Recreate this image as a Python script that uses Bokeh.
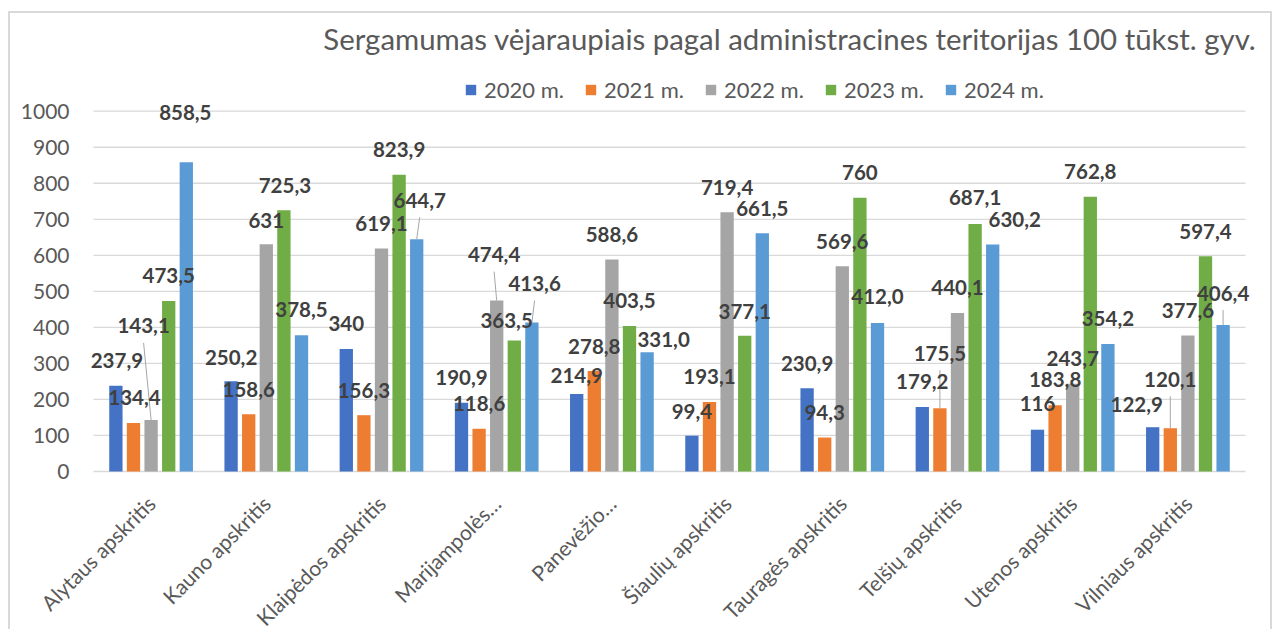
import math
from bokeh.plotting import figure
from bokeh.models import ColumnDataSource, Range1d, FixedTicker, Legend, LegendItem
from bokeh.core.properties import value
from bokeh.embed import file_html
from bokeh.resources import INLINE

# ---------------- data ----------------
categories = ["Alytaus apskritis", "Kauno apskritis", "Klaipėdos apskritis", "Marijampolės…",
              "Panevėžio…", "Šiaulių apskritis", "Tauragės apskritis", "Telšių apskritis",
              "Utenos apskritis", "Vilniaus apskritis"]
series_names = ["2020 m.", "2021 m.", "2022 m.", "2023 m.", "2024 m."]
v2020 = [237.9, 250.2, 340, 190.9, 214.9, 99.4, 230.9, 179.2, 116, 122.9]
v2021 = [134.4, 158.6, 156.3, 118.6, 278.8, 193.1, 94.3, 175.5, 183.8, 120.1]
v2022 = [143.1, 631, 619.1, 474.4, 588.6, 719.4, 569.6, 440.1, 243.7, 377.6]
v2023 = [473.5, 725.3, 823.9, 363.5, 403.5, 377.1, 760, 687.1, 762.8, 597.4]
v2024 = [858.5, 378.5, 644.7, 413.6, 331.0, 661.5, 412.0, 630.2, 354.2, 406.4]
t2020 = ["237,9", "250,2", "340", "190,9", "214,9", "99,4", "230,9", "179,2", "116", "122,9"]
t2021 = ["134,4", "158,6", "156,3", "118,6", "278,8", "193,1", "94,3", "175,5", "183,8", "120,1"]
t2022 = ["143,1", "631", "619,1", "474,4", "588,6", "719,4", "569,6", "440,1", "243,7", "377,6"]
t2023 = ["473,5", "725,3", "823,9", "363,5", "403,5", "377,1", "760", "687,1", "762,8", "597,4"]
t2024 = ["858,5", "378,5", "644,7", "413,6", "331,0", "661,5", "412,0", "630,2", "354,2", "406,4"]
y_ticks = [0, 100, 200, 300, 400, 500, 600, 700, 800, 900, 1000]
title_text = "Sergamumas vėjaraupiais pagal administracines teritorijas 100 tūkst. gyv."

values = [v2020, v2021, v2022, v2023, v2024]
texts = [t2020, t2021, t2022, t2023, t2024]

# ---------------- styling / layout ----------------
colors = ["#4472C4", "#ED7D31", "#A5A5A5", "#70AD47", "#5B9BD5"]
# label placement offsets (pixels) as moved by hand in the original
lab_dx = [[1, 0, 0, 0, 0, 0, 0, 0, 0, -16],
          [1, 0, 0, 0, 0, 0, 0, 0, 0, 0],
          [-7.5, 0, 0, -2.6, 0, 0, 0, 0, 0, 0],
          [0, 1, 0, -7.7, 0, 0, 0, 0, 0, 0],
          [-1, 0, 3, 2.7, 16.5, 0, 0, 22, 0, 0]]
lab_dy = [[-25, -24, -25, -25, -19, -24, -25, -25, -26, -23],
          [-26, -25, -25, -25, -25, -25, -25, -55, -26, -49],
          [-94, -24, -25, -46, -25, -25, -25, -25, -25, -25],
          [-25, -25, -25, -20, -26, -24, -25, -26, -25, -25],
          [-50, -26, -39, -39, -13, -25, -27, -25, -25, -32]]
leaders = [(2, 0), (4, 2), (2, 3), (4, 3), (1, 7), (1, 9), (4, 9)]

W, H = 1264, 618            # canvas size
CX0, CY0 = 10, 13           # canvas origin on the page
PLOT_L, PLOT_B = 93, 471    # plot area left / baseline on the page
n = len(categories)
ppx = 115.2                 # pixels per category
ppy = 0.3603                # pixels per unit
x_start = -(PLOT_L - CX0) / ppx
y_end = (PLOT_B - CY0) / ppy
y_start = y_end - H / ppy

bar_step = 0.1528
bar_w = 0.1155
FONT = "Lato"
GRAY = "#595959"

p = figure(width=W, height=H, output_backend="svg", toolbar_location=None,
           x_range=Range1d(x_start, x_start + W / ppx), y_range=Range1d(y_start, y_end),
           min_border=0, min_border_left=0, min_border_right=0, min_border_top=0, min_border_bottom=0)
p.styles = {"border": "2px solid #d9d9d9", "border-bottom": "none",
            "margin-top": f"{CY0 - 2}px", "margin-left": f"{CX0 - 2}px"}
p.outline_line_color = None
p.background_fill_color = "white"
p.border_fill_color = "white"

# gridlines over the category span only
p.segment(x0=[0] * len(y_ticks), x1=[n] * len(y_ticks), y0=y_ticks, y1=y_ticks,
          line_color="#D9D9D9", line_width=1.3)

renderers = []
for j in range(5):
    xs = [i + 0.5 + (j - 2) * bar_step for i in range(n)]
    src = ColumnDataSource(dict(x=xs, top=values[j]))
    r = p.vbar(x="x", top="top", bottom=0, width=bar_w, source=src,
               fill_color=colors[j], line_color=None)
    renderers.append(r)

# leader lines
lx0, ly0, lx1, ly1 = [], [], [], []
for (j, i) in leaders:
    bx = i + 0.5 + (j - 2) * bar_step
    v = values[j][i]
    lx0.append(bx)
    ly0.append(v)
    lx1.append(bx + lab_dx[j][i] / ppx)
    ly1.append(v - (lab_dy[j][i] + 17) / ppy)
p.segment(x0=lx0, y0=ly0, x1=lx1, y1=ly1, line_color="#A6A6A6", line_width=1)

# data labels
for j in range(5):
    xs = [i + 0.5 + (j - 2) * bar_step for i in range(n)]
    src = ColumnDataSource(dict(x=xs, y=values[j], t=texts[j], dx=lab_dx[j], dy=lab_dy[j]))
    p.text(x="x", y="y", text="t", x_offset="dx", y_offset="dy", source=src,
           text_align="center", text_baseline="middle", text_font=value(FONT),
           text_font_style="bold", text_font_size="20.5px", text_color="#404040")

# title (right-aligned just past the plot area)
p.text(x=[n], y=[y_ticks[-1]], text=[title_text], x_offset=11, y_offset=-73,
       text_align="right", text_baseline="alphabetic", text_font=value(FONT),
       text_font_size="29.4px", text_color=GRAY)

# y axis drawn at x = 0
p.yaxis.fixed_location = 0
p.yaxis.ticker = FixedTicker(ticks=y_ticks)
p.yaxis.axis_line_color = None
p.yaxis.major_tick_line_color = None
p.yaxis.minor_tick_line_color = None
p.yaxis.major_label_standoff = 18
p.yaxis.major_label_text_font = FONT
p.yaxis.major_label_text_font_size = "21px"
p.yaxis.major_label_text_color = GRAY
p.ygrid.grid_line_color = None
p.xgrid.grid_line_color = None
p.xaxis.visible = False

# category labels, rotated 45 degrees under each group
cat_src = ColumnDataSource(dict(x=[i + 0.5 for i in range(n)], y=[0] * n, t=categories))
p.text(x="x", y="y", text="t", source=cat_src, angle=math.pi / 4, y_offset=28,
       text_align="right", text_baseline="middle", text_font=value(FONT),
       text_font_size="21px", text_color=GRAY)

legend = Legend(items=[LegendItem(label=series_names[j], renderers=[renderers[j]]) for j in range(5)],
                orientation="horizontal", location=(470 - 6 - CX0, (CY0 + H) - 90.5 - 12),
                padding=0, margin=0,
                spacing=20, label_standoff=7, glyph_width=13, glyph_height=13,
                border_line_color=None, background_fill_alpha=0,
                label_text_font=FONT, label_text_font_size="22px", label_text_color=GRAY)
p.add_layout(legend, "center")

open("out.html", "w").write(file_html(p, INLINE))
